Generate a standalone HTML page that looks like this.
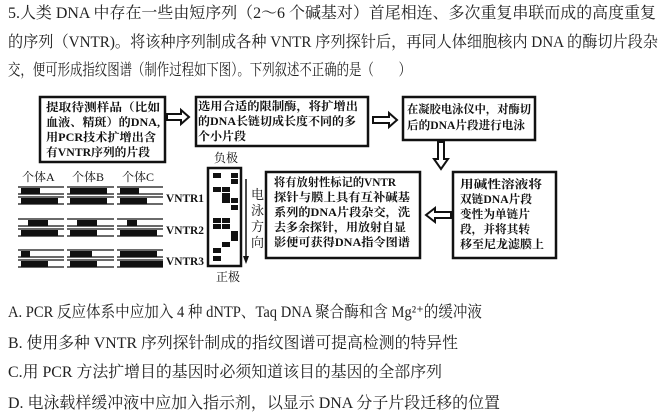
<!DOCTYPE html>
<html><head><meta charset="utf-8"><style>
html,body{margin:0;padding:0;background:#fff;}
svg{display:block;}
.t{font-family:"Liberation Serif","Noto Serif CJK SC",serif;font-size:16px;fill:#222;}
.d{font-family:"Liberation Serif","Noto Serif CJK SC",serif;font-size:11.5px;font-weight:bold;fill:#111;}
</style></head><body>
<svg width="667" height="418" viewBox="0 0 667 418" xmlns="http://www.w3.org/2000/svg">
<text class="t" x="8" y="18" textLength="648" lengthAdjust="spacingAndGlyphs">5.人类 DNA 中存在一些由短序列（2～6 个碱基对）首尾相连、多次重复串联而成的高度重复</text>
<text class="t" x="8" y="47" textLength="650" lengthAdjust="spacingAndGlyphs">的序列（VNTR)。将该种序列制成各种 VNTR 序列探针后，再同人体细胞核内 DNA 的酶切片段杂</text>
<text class="t" x="8" y="75" textLength="403" lengthAdjust="spacingAndGlyphs">交，便可形成指纹图谱（制作过程如下图）。下列叙述不正确的是（　　）</text>

<g fill="none" stroke="#111" stroke-width="2.5">
<rect x="40" y="97" width="125" height="65"/>
<rect x="196" y="97" width="172" height="49"/>
<rect x="403" y="97" width="132" height="43"/>
<rect x="453" y="172" width="103" height="86"/>
<rect x="266" y="172" width="154" height="86"/>
<rect x="208" y="168" width="33" height="98"/>
</g>
<text class="d" x="46" y="111" textLength="114" lengthAdjust="spacingAndGlyphs">提取待测样品（比如</text>
<text class="d" x="46" y="126" textLength="114" lengthAdjust="spacingAndGlyphs">血液、精斑）的DNA,</text>
<text class="d" x="46" y="141" textLength="110" lengthAdjust="spacingAndGlyphs">用PCR技术扩增出含</text>
<text class="d" x="46" y="156" textLength="104" lengthAdjust="spacingAndGlyphs">有VNTR序列的片段</text>

<text class="d" x="198" y="110" textLength="160" lengthAdjust="spacingAndGlyphs">选用合适的限制酶，将扩增出</text>
<text class="d" x="198" y="125" textLength="158" lengthAdjust="spacingAndGlyphs">的DNA长链切成长度不同的多</text>
<text class="d" x="198" y="140" textLength="48" lengthAdjust="spacingAndGlyphs">个小片段</text>

<text class="d" x="407" y="113" textLength="124" lengthAdjust="spacingAndGlyphs">在凝胶电泳仪中，对酶切</text>
<text class="d" x="407" y="129" textLength="118" lengthAdjust="spacingAndGlyphs">后的DNA片段进行电泳</text>

<text class="d" x="460" y="188" textLength="82" lengthAdjust="spacingAndGlyphs">用碱性溶液将</text>
<text class="d" x="460" y="203" textLength="72" lengthAdjust="spacingAndGlyphs">双链DNA片段</text>
<text class="d" x="460" y="218" textLength="70" lengthAdjust="spacingAndGlyphs">变性为单链片</text>
<text class="d" x="460" y="233" textLength="70" lengthAdjust="spacingAndGlyphs">段，并将其转</text>
<text class="d" x="460" y="248" textLength="84" lengthAdjust="spacingAndGlyphs">移至尼龙滤膜上</text>

<text class="d" x="274" y="186" textLength="122" lengthAdjust="spacingAndGlyphs">将有放射性标记的VNTR</text>
<text class="d" x="274" y="201" textLength="136" lengthAdjust="spacingAndGlyphs">探针与膜上具有互补碱基</text>
<text class="d" x="274" y="216" textLength="136" lengthAdjust="spacingAndGlyphs">系列的DNA片段杂交，洗</text>
<text class="d" x="274" y="231" textLength="132" lengthAdjust="spacingAndGlyphs">去多余探针，用放射自显</text>
<text class="d" x="274" y="246" textLength="136" lengthAdjust="spacingAndGlyphs">影便可获得DNA指令图谱</text>

<g fill="#fff" stroke="#111" stroke-width="2">
<path d="M167 114 h14 v-4 l8 7 l-8 7 v-4 h-14 z"/>
<path d="M373 117 h16 v-4 l8 7 l-8 7 v-4 h-16 z"/>
<path d="M438 142 v17 h-4 l7 10 l7 -10 h-4 v-17 z"/>
<path d="M451 212 h-16 v-4 l-9 7 l9 7 v-4 h16 z"/>
</g>

<text class="d" x="214" y="162" style="font-weight:normal;font-size:12px">负极</text>
<text class="d" x="216" y="281" style="font-weight:normal;font-size:12px">正极</text>
<g fill="#111">
<rect x="213" y="173" width="8" height="5"/><rect x="231" y="173" width="7" height="5"/>
<rect x="231" y="179" width="7" height="5"/>
<rect x="213" y="187" width="8" height="5"/><rect x="222" y="187" width="8" height="5"/>
<rect x="222" y="193" width="8" height="5"/>
<rect x="222" y="198" width="8" height="5"/><rect x="231" y="198" width="7" height="5"/>
<rect x="231" y="205" width="7" height="5"/>
<rect x="213" y="218" width="8" height="5"/><rect x="222" y="218" width="8" height="5"/>
<rect x="213" y="224" width="8" height="5"/><rect x="222" y="224" width="8" height="5"/>
<rect x="231" y="231" width="7" height="5"/>
<rect x="231" y="236" width="7" height="5"/>
<rect x="222" y="242" width="8" height="5"/>
<rect x="213" y="248" width="8" height="5"/>
<rect x="213" y="256" width="8" height="5"/>
</g>
<line x1="246" y1="179" x2="246" y2="258" stroke="#111" stroke-width="1.5"/>
<path d="M243 256 l3 8 l3 -8 z" fill="#111"/>
<g class="d" style="font-weight:normal;font-size:13px">
<text x="251" y="199">电</text><text x="251" y="215">泳</text><text x="251" y="231">方</text><text x="251" y="247">向</text>
</g>

<g class="d" style="font-weight:normal;font-size:12px">
<text x="22" y="181">个体A</text><text x="72" y="181">个体B</text><text x="122" y="181">个体C</text>
</g>
<g class="d" style="font-size:12px">
<text x="166" y="202" textLength="38" lengthAdjust="spacingAndGlyphs">VNTR1</text>
<text x="166" y="234" textLength="38" lengthAdjust="spacingAndGlyphs">VNTR2</text>
<text x="166" y="265" textLength="38" lengthAdjust="spacingAndGlyphs">VNTR3</text>
</g>
<g stroke="#111" stroke-width="1.3">
<line x1="18" y1="187" x2="163" y2="187"/><line x1="18" y1="194" x2="163" y2="194"/>
<line x1="18" y1="197" x2="163" y2="197"/><line x1="18" y1="204" x2="163" y2="204"/>
<line x1="18" y1="219" x2="163" y2="219"/><line x1="18" y1="226" x2="163" y2="226"/>
<line x1="18" y1="229" x2="163" y2="229"/><line x1="18" y1="236" x2="163" y2="236"/>
<line x1="18" y1="250" x2="163" y2="250"/><line x1="18" y1="257" x2="163" y2="257"/>
<line x1="18" y1="260" x2="163" y2="260"/><line x1="18" y1="267" x2="163" y2="267"/>
</g>
<g fill="#fff"><rect x="64" y="185" width="3" height="84"/><rect x="114" y="185" width="3" height="84"/></g>
<g fill="#111">
<rect x="21" y="188" width="19" height="6"/><rect x="21" y="198" width="37" height="6"/>
<rect x="70" y="188" width="37" height="6"/><rect x="70" y="198" width="37" height="6"/>
<rect x="120" y="188" width="19" height="6"/><rect x="120" y="198" width="27" height="6"/>
<rect x="28" y="220" width="20" height="6"/><rect x="21" y="230" width="37" height="6"/>
<rect x="77" y="220" width="20" height="6"/><rect x="70" y="230" width="27" height="6"/>
<rect x="127" y="220" width="10" height="6"/><rect x="120" y="230" width="37" height="6"/>
<rect x="21" y="251" width="9" height="6"/><rect x="21" y="261" width="27" height="6"/>
<rect x="70" y="251" width="22" height="6"/><rect x="70" y="261" width="27" height="6"/>
<rect x="120" y="251" width="37" height="6"/><rect x="120" y="261" width="43" height="6"/>
</g>

<text class="t" x="8" y="317" textLength="474" lengthAdjust="spacingAndGlyphs">A.  PCR 反应体系中应加入 4 种 dNTP、Taq DNA 聚合酶和含 Mg²⁺的缓冲液</text>
<text class="t" x="8" y="348" textLength="450" lengthAdjust="spacingAndGlyphs">B.  使用多种 VNTR 序列探针制成的指纹图谱可提高检测的特异性</text>
<text class="t" x="8" y="377" textLength="434" lengthAdjust="spacingAndGlyphs">C.用 PCR 方法扩增目的基因时必须知道该目的基因的全部序列</text>
<text class="t" x="8" y="408" textLength="492" lengthAdjust="spacingAndGlyphs">D.  电泳载样缓冲液中应加入指示剂，以显示 DNA 分子片段迁移的位置</text>
</svg>
</body></html>
